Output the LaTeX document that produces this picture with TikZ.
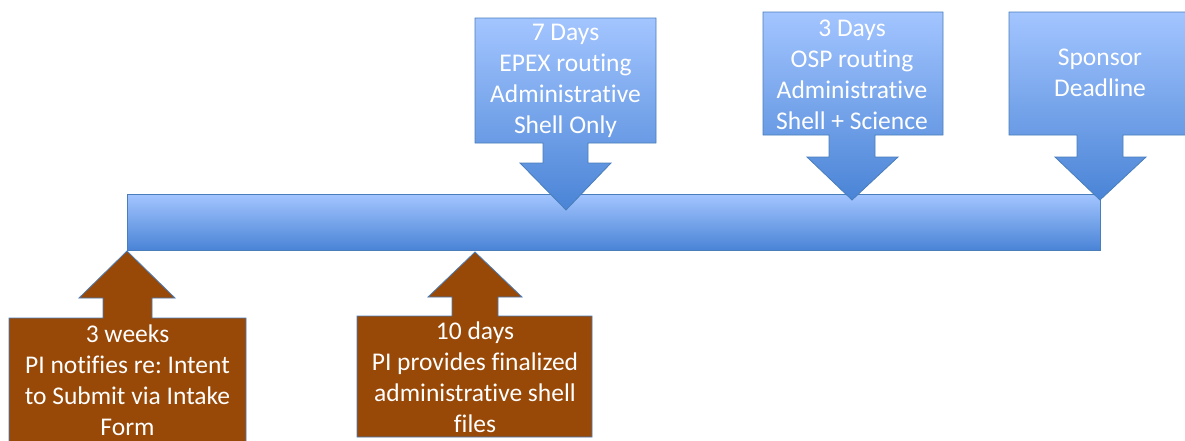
\documentclass[tikz,border=0pt]{standalone}
\usepackage{fontspec}
\setmainfont{Carlito}[Ligatures={NoCommon}]
\frenchspacing
\definecolor{bluetop}{HTML}{A3C5FF}
\definecolor{bluebot}{HTML}{4A84D6}
\definecolor{blueline}{HTML}{4A7EBB}
\definecolor{brownfill}{HTML}{984807}
\tikzset{
  bluecall/.style={top color=bluetop, bottom color=bluebot, draw=blueline, line width=0.8pt, line join=miter},
  browncall/.style={fill=brownfill, draw=blueline, line width=0.8pt, line join=miter},
  lbl/.style={text=white, font=\fontsize{25.5}{31}\selectfont, align=center, inner sep=0pt},
}
\begin{document}
\begin{tikzpicture}[x=1pt,y=-1pt]
\useasboundingbox (0,0) rectangle (1185,440);
\clip (0,0) rectangle (1185,440);
% timeline bar
\path[bluecall] (127,194) rectangle (1100,250);
% top callouts (down arrows)
\path[bluecall] (475,18) -- (656,18) -- (656,143) -- (588,143) -- (588,163) -- (611,163) -- (566,210)
  -- (520,163) -- (543,163) -- (543,143) -- (475,143) -- cycle;
\path[bluecall] (763,12) -- (943,12) -- (943,135) -- (875,135) -- (875,157) -- (898,157) -- (852,200)
  -- (807,157) -- (829,157) -- (829,135) -- (763,135) -- cycle;
\path[bluecall] (1009,12) -- (1191,12) -- (1191,135) -- (1123,135) -- (1123,157) -- (1146,157) -- (1100,200)
  -- (1055,157) -- (1077,157) -- (1077,135) -- (1009,135) -- cycle;
% bottom callouts (up arrows)
\path[browncall] (9,446) -- (9,318) -- (103,318) -- (103,298) -- (79,298) -- (127,251) -- (175,298)
  -- (152,298) -- (152,318) -- (246,318) -- (246,446) -- cycle;
\path[browncall] (357,437) -- (357,316) -- (452,316) -- (452,297) -- (428,297) -- (475,252) -- (522,297)
  -- (498,297) -- (498,316) -- (592,316) -- (592,437) -- cycle;
% labels
\node[lbl] (t1) at (565.5,81) {7 Days\\EPEX routing\\Administrative\\Shell Only};
\node[lbl] (t2) at (852,75) {3 Days\\OSP routing\\Administrative\\Shell + Science};
\node[lbl] (t3) at (1100,73) {Sponsor\\Deadline};
\node[lbl] (b1) at (127.5,380.5) {3 weeks\\PI notifies re: Intent\\to Submit via Intake\\Form};
\node[lbl] (b2) at (475,377.5) {10 days\\PI provides finalized\\administrative shell\\files};
\end{tikzpicture}
\end{document}
